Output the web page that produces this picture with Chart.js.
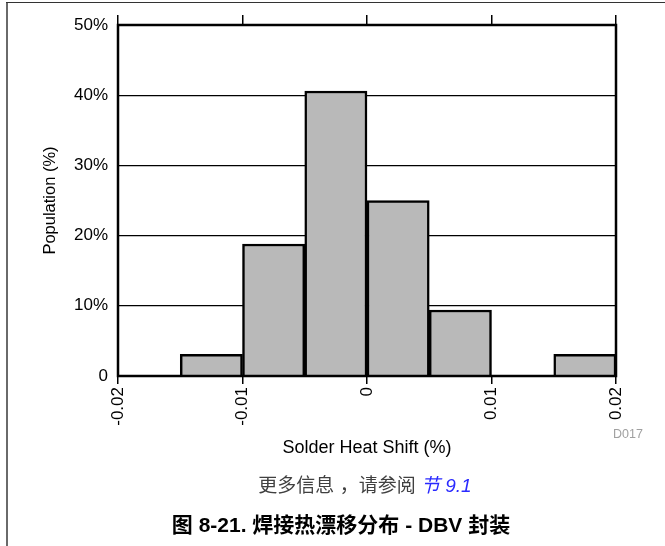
<!DOCTYPE html>
<html>
<head>
<meta charset="utf-8">
<script src="https://cdn.jsdelivr.net/npm/chart.js@4/dist/chart.umd.min.js"></script>
<style>
  html, body { margin: 0; padding: 0; background: #fff; }
  #wrap { position: relative; width: 665px; height: 546px; overflow: hidden; }
  #chart { position: absolute; left: 0; top: 0; width: 665px; height: 546px; }
  .vline { position: absolute; left: 6px; top: 2px; width: 2px; height: 544px; background: #6a6a6a; }
  .hline { position: absolute; left: 6px; top: 2px; right: 0; height: 1px; background: #333; }
  .txt { position: absolute; white-space: pre; transform: translate(-50%, -50%); }
  #dcode { left: 628px; top: 434px; font: 12.5px 'Liberation Sans', Arial, sans-serif; color: #a0a0a0; }
  #note { left: 365px; top: 483px; font: 19px 'Liberation Sans', 'Noto Sans CJK SC', sans-serif; color: #404040; }
  #note .link { color: #2a2aff; font-style: italic; }
  #caption { left: 341px; top: 523px; font: bold 21px 'Liberation Sans', 'Noto Sans CJK SC', sans-serif; color: #000; }
</style>
</head>
<body>
<div id="wrap">
  <canvas id="chart" width="665" height="546"></canvas>
  <div class="vline"></div>
  <div class="hline"></div>
  <div class="txt" id="dcode">D017</div>
  <div class="txt" id="note">更多信息 ，请参阅 <span class="link">节 9.1</span></div>
  <div class="txt" id="caption">图 8-21. 焊接热漂移分布 - DBV 封装</div>
</div>
<script>
// ---- Data ----
const binCenters = [-0.0175, -0.0125, -0.0075, -0.0025, 0.0025, 0.0075, 0.0125, 0.0175];
const population = [null, 3.1, 18.8, 40.6, 25.0, 9.4, null, 3.1];
const xTickLabels = ['-0.02', '-0.01', '0', '0.01', '0.02'];
const yTickLabels = ['0', '10%', '20%', '30%', '40%', '50%'];
const xTitle = 'Solder Heat Shift (%)';
const yTitle = 'Population (%)';

Chart.defaults.font.family = "'Liberation Sans', Arial, sans-serif";
Chart.defaults.color = '#000';

const frame = {
  id: 'frame',
  afterDatasetsDraw(chart) {
    const { ctx, chartArea: a } = chart;
    ctx.save();
    ctx.strokeStyle = '#000';
    ctx.lineWidth = 2.5;
    ctx.strokeRect(a.left, a.top, a.right - a.left, a.bottom - a.top);
    ctx.restore();
  }
};

new Chart(document.getElementById('chart'), {
  type: 'bar',
  data: {
    datasets: [{
      data: binCenters.map((c, i) => ({ x: c, y: population[i] })),
      backgroundColor: '#b9b9b9',
      borderColor: '#000',
      borderWidth: 2.5,
      barPercentage: 1,
      categoryPercentage: 1,
      xAxisID: 'x',
      yAxisID: 'y'
    }]
  },
  plugins: [frame],
  options: {
    responsive: false,
    animation: false,
    events: [],
    layout: { padding: { left: 37, right: 49, top: 15, bottom: 83.2 } },
    plugins: { legend: { display: false }, tooltip: { enabled: false } },
    scales: {
      x: {
        type: 'linear',
        position: 'bottom',
        min: -0.02, max: 0.02,
        offset: false,
        afterBuildTicks(s) { s.ticks = xTickLabels.map((_, i) => ({ value: -0.02 + i * 0.01 })); },
        afterFit(s) { s.height = 86.8; },
        ticks: {
          callback: (v, i) => xTickLabels[i],
          minRotation: 90, maxRotation: 90,
          font: { size: 17 }, padding: 3, color: '#000'
        },
        grid: { drawOnChartArea: false, drawTicks: true, tickLength: 8, color: '#000', lineWidth: 1.5, offset: false },
        border: { display: false },
        title: { display: true, text: xTitle, font: { size: 18 }, color: '#000' }
      },
      xTop: {
        type: 'linear',
        position: 'top',
        min: -0.02, max: 0.02,
        offset: false,
        afterBuildTicks(s) { s.ticks = xTickLabels.map((_, i) => ({ value: -0.02 + i * 0.01 })); },
        afterFit(s) { s.height = 10; },
        ticks: { display: false },
        grid: { drawOnChartArea: false, drawTicks: true, tickLength: 10, color: '#000', lineWidth: 1.5, offset: false },
        border: { display: false }
      },
      y: {
        min: 0, max: 50,
        afterBuildTicks(s) { s.ticks = yTickLabels.map((_, i) => ({ value: i * 10 })); },
        afterFit(s) { s.width = 81; },
        ticks: {
          callback: (v, i) => yTickLabels[i],
          font: { size: 17 }, padding: 10, color: '#000'
        },
        grid: { drawTicks: false, color: '#000', lineWidth: 1.2 },
        border: { display: false },
        title: { display: true, text: yTitle, font: { size: 16.5 }, color: '#000' }
      }
    }
  }
});
</script>
</body>
</html>
